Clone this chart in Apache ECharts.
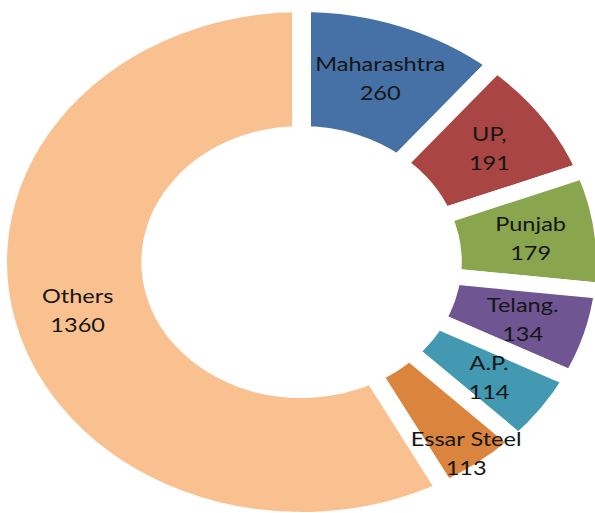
<!DOCTYPE html>
<html>
<head>
<meta charset="utf-8">
<script src="https://cdn.jsdelivr.net/npm/echarts@6/dist/echarts.min.js"></script>
<style>
  html, body { margin: 0; padding: 0; background: #fff; overflow: hidden; }
  /* the original picture is stretched sideways, so the ring is an ellipse */
  #main { width: 505px; height: 513px; transform: scaleX(1.178); transform-origin: 0 0; }
</style>
</head>
<body>
<div id="main"></div>
<script>
  var categories = ['Maharashtra', 'UP,', 'Punjab', 'Telang.', 'A.P.', 'Essar Steel', 'Others'];
  var values = [260, 191, 179, 134, 114, 113, 1360];

  var pieData = [];
  for (var i = 0; i < categories.length; i++) {
    pieData.push({ name: categories[i], value: values[i] });
  }

  var myChart = echarts.init(document.getElementById('main'), null, { renderer: 'svg' });

  var option = {
    animation: false,
    color: ['#4571a7', '#a94643', '#89a54e', '#6f5591', '#4299b1', '#db843e', '#f9c190'],
    series: [{
      type: 'pie',
      center: ['256px', '262px'],
      radius: [128, 258],
      startAngle: 90,
      clockwise: true,
      avoidLabelOverlap: false,
      itemStyle: {
        borderColor: '#fff',
        borderWidth: 16
      },
      label: {
        show: true,
        position: 'inside',
        formatter: '{b}\n{c}',
        color: '#161616',
        fontFamily: 'Lato',
        fontSize: 20,
        lineHeight: 29
      },
      labelLine: { show: false },
      // Essar Steel label sits further out in the original
      labelLayout: function (params) {
        if (params.dataIndex === 5) {
          return { dx: 22, dy: 34 };
        }
      },
      emphasis: { disabled: true },
      data: pieData
    }]
  };

  myChart.setOption(option);
</script>
</body>
</html>
